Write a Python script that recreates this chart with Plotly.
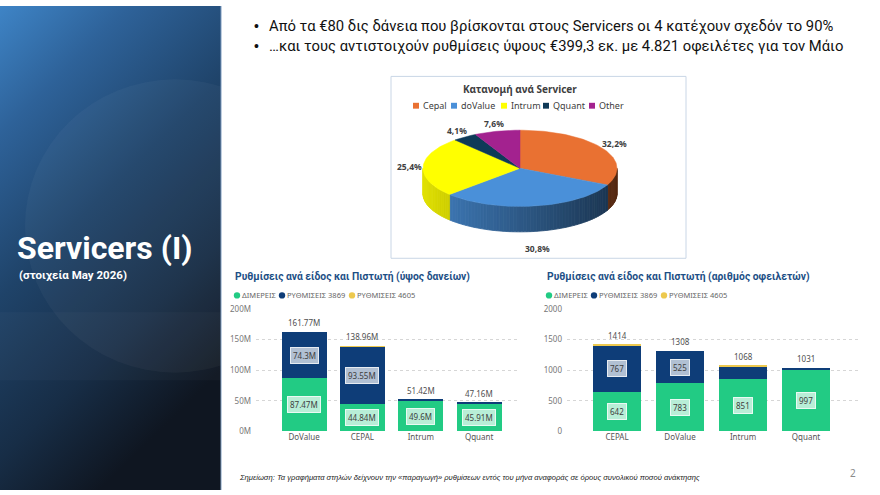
import math
import urllib.parse
import plotly.graph_objects as go

W, H = 880, 495

# ---------------- data ----------------
pie_labels = ["Cepal", "doValue", "Intrum", "Qquant", "Other"]
pie_values = [32.2, 30.8, 25.4, 4.1, 7.6]
pie_colors = ["#E97132", "#4A90D9", "#FFFF00", "#0E3A58", "#A3228F"]

series_names = ["ΔΙΜΕΡΕΙΣ", "ΡΥΘΜΙΣΕΙΣ 3869", "ΡΥΘΜΙΣΕΙΣ 4605"]
series_colors = ["#22CB84", "#0E3D78", "#EDC94E"]

amt_categories = ["DoValue", "CEPAL", "Intrum", "Qquant"]
amt_dimereis = [87.47, 44.84, 49.6, 45.91]
amt_3869 = [74.3, 93.55, 1.82, 1.25]
amt_4605 = [0, 0.57, 0, 0]
amt_ticks = [0, 50, 100, 150, 200]
amt_ticktext = ["0M", "50M", "100M", "150M", "200M"]

cnt_categories = ["CEPAL", "DoValue", "Intrum", "Qquant"]
cnt_dimereis = [642, 783, 851, 997]
cnt_3869 = [767, 525, 215, 34]
cnt_4605 = [5, 0, 2, 0]
cnt_ticks = [0, 500, 1000, 1500, 2000]
cnt_ticktext = ["0", "500", "1000", "1500", "2000"]

bullet_texts = [
    "Από τα €80 δις δάνεια που βρίσκονται στους Servicers οι 4 κατέχουν σχεδόν το 90%",
    "…και τους αντιστοιχούν ρυθμίσεις ύψους €399,3 εκ. με 4.821 οφειλέτες για τον Μάιο",
]
note_text = ("Σημείωση: Τα γραφήματα στηλών δείχνουν την «παραγωγή» ρυθμίσεων εντός του μήνα "
             "αναφοράς σε όρους συνολικού ποσού ανάκτησης")

# ---------------- helpers ----------------
def px(x):
    return x / W

def py(y):
    return 1 - y / H

FONT = "Noto Sans"
SLIDE_FONT = "Roboto"

fig = go.Figure()
annotations = []
shapes = []

# ---------------- left panel background ----------------
svg = ("<svg xmlns='http://www.w3.org/2000/svg' width='221' height='495' viewBox='0 0 221 495'>"
       "<defs><linearGradient id='g' x1='0' y1='0' x2='0.45' y2='1'>"
       "<stop offset='0' stop-color='#3E84C6'/>"
       "<stop offset='0.22' stop-color='#2E6299'/>"
       "<stop offset='0.5' stop-color='#1F4369'/>"
       "<stop offset='0.78' stop-color='#172D46'/>"
       "<stop offset='1' stop-color='#0F1621'/>"
       "</linearGradient></defs>"
       "<rect width='221' height='495' fill='url(#g)'/>"
       "<circle cx='175' cy='225' r='150' fill='white' fill-opacity='0.035'/>"
       "<rect y='313' width='221' height='70' fill='white' fill-opacity='0.025'/>"
       "</svg>")
src = "data:image/svg+xml;charset=utf-8," + urllib.parse.quote(svg)
fig.add_layout_image(dict(source=src, xref="paper", yref="paper", x=0, y=1,
                          sizex=px(221), sizey=1, xanchor="left", yanchor="top",
                          sizing="stretch", layer="below"))
shapes.append(dict(type="line", xref="paper", yref="paper", x0=px(221), x1=px(221),
                   y0=0, y1=1, line=dict(color="#7E9CC0", width=1)))

annotations.append(dict(xref="paper", yref="paper", x=px(15), y=py(247), xanchor="left",
                        yanchor="middle", showarrow=False, text="<b>Servicers (I)</b>",
                        font=dict(family=SLIDE_FONT, size=32, color="white")))
annotations.append(dict(xref="paper", yref="paper", x=px(17), y=py(275), xanchor="left",
                        yanchor="middle", showarrow=False, text="<b>(στοιχεία May 2026)</b>",
                        font=dict(family=SLIDE_FONT, size=11.5, color="white")))

# ---------------- bullets ----------------
for i, t in enumerate(bullet_texts):
    yy = 20 + i * 21
    annotations.append(dict(xref="paper", yref="paper", x=px(256), y=py(yy), xanchor="center",
                            yanchor="middle", showarrow=False, text="•",
                            font=dict(family="Liberation Sans", size=14, color="#111111")))
    annotations.append(dict(xref="paper", yref="paper", x=px(267), y=py(yy), xanchor="left",
                            yanchor="middle", showarrow=False, text=t,
                            font=dict(family=SLIDE_FONT, size=14.8, color="#111111")))

# ---------------- pie box ----------------
shapes.append(dict(type="rect", xref="paper", yref="paper", x0=px(391), x1=px(686),
                   y0=py(258), y1=py(72), line=dict(color="#C9D6E6", width=1),
                   fillcolor="rgba(0,0,0,0)", layer="below"))
annotations.append(dict(xref="paper", yref="paper", x=px(520), y=py(85), xanchor="center",
                        yanchor="middle", showarrow=False, text="<b>Κατανομή ανά Servicer</b>",
                        font=dict(family=FONT, size=10, color="#404040")))
pie_leg_x = [416, 454, 504, 546, 592]
for lx, l, c in zip(pie_leg_x, pie_labels, pie_colors):
    shapes.append(dict(type="rect", xref="paper", yref="paper", x0=px(lx - 3), x1=px(lx + 3),
                       y0=py(105), y1=py(99), line=dict(width=0), fillcolor=c))
    annotations.append(dict(xref="paper", yref="paper", x=px(lx + 5), y=py(102), xanchor="left",
                            yanchor="middle", showarrow=False, text=l,
                            font=dict(family=FONT, size=9, color="#404040")))

# ---------------- 3D pie drawn on a pixel canvas axis ----------------
cx, cy, a, b, depth = 520, 166, 97, 39, 26
total = sum(pie_values)
bounds = [0]
for v in pie_values:
    bounds.append(bounds[-1] + v / total * 360)

def ept(th):
    r = math.radians(th)
    return cx + a * math.sin(r), cy - b * math.cos(r)

def shade(hexc, f):
    hexc = hexc.lstrip("#")
    r, g, bb = (int(hexc[i:i + 2], 16) for i in (0, 2, 4))
    return "rgb(%d,%d,%d)" % (r * f, g * f, bb * f)

# walls (front half: 90..270 deg clockwise from top)
step = 2.0
th = 90.0
while th < 270.0 - 1e-9:
    t0, t1 = th, min(th + step, 270.0)
    cuts = [t0] + [bd for bd in bounds if t0 < bd < t1] + [t1]
    for s0, s1 in zip(cuts[:-1], cuts[1:]):
        mid = (s0 + s1) / 2
        k = max(i for i in range(len(pie_values)) if bounds[i] <= mid)
        n = 4
        top = [ept(s0 + (s1 - s0) * j / n) for j in range(n + 1)]
        xs = [p[0] for p in top] + [p[0] for p in reversed(top)] + [top[0][0]]
        ys = [p[1] for p in top] + [p[1] + depth for p in reversed(top)] + [top[0][1]]
        xm = ept(mid)[0]
        f = 0.88 - 0.52 * (xm - (cx - a)) / (2 * a)
        col = shade(pie_colors[k], f)
        fig.add_trace(go.Scatter(x=xs, y=ys, mode="lines", fill="toself", fillcolor=col,
                                 line=dict(color=col, width=0.8), xaxis="x3", yaxis="y3",
                                 hoverinfo="skip", showlegend=False))
    th = t1

# top faces
for k, v in enumerate(pie_values):
    s0, s1 = bounds[k], bounds[k + 1]
    n = max(4, int((s1 - s0) / 1.5))
    arc = [ept(s0 + (s1 - s0) * j / n) for j in range(n + 1)]
    xs = [cx] + [p[0] for p in arc] + [cx]
    ys = [cy] + [p[1] for p in arc] + [cy]
    fig.add_trace(go.Scatter(x=xs, y=ys, mode="lines", fill="toself", fillcolor=pie_colors[k],
                             line=dict(color=pie_colors[k], width=0.5), xaxis="x3", yaxis="y3",
                             hoverinfo="skip", showlegend=False))
    mid = math.radians((s0 + s1) / 2)
    lx = cx + (a + 14) * math.sin(mid)
    ly = cy - (b + 8) * math.cos(mid) + (depth + 10) * max(0.0, -math.cos(mid))
    annotations.append(dict(xref="x3", yref="y3", x=lx, y=ly, showarrow=False,
                            text="<b>%s%%</b>" % (f"{v:.1f}".replace(".", ",")),
                            font=dict(family=FONT, size=8.5, color="#404040")))

# ---------------- bar charts ----------------
def bar_chart(cats, series, xa, ya, fmt, ymax):
    for name, vals, col in zip(series_names, series, series_colors):
        fig.add_trace(go.Bar(x=cats, y=vals, name=name, marker=dict(color=col, line=dict(width=0)),
                             width=0.77, xaxis=xa, yaxis=ya, showlegend=False, hoverinfo="skip"))
    for i, c in enumerate(cats):
        base = 0
        for s in range(len(series)):
            v = series[s][i]
            if v >= 0.12 * ymax:
                annotations.append(dict(xref=xa, yref=ya, x=c, y=base + v / 2, showarrow=False,
                                        text=fmt(v), bgcolor="rgba(255,255,255,0.68)",
                                        bordercolor="rgba(255,255,255,0.85)", borderwidth=1,
                                        borderpad=2,
                                        font=dict(family=FONT, size=8, color="#3E3E3E")))
            base += v
        tot = round(sum(sv[i] for sv in series), 2)
        annotations.append(dict(xref=xa, yref=ya, x=c, y=tot, yanchor="bottom", yshift=2,
                                showarrow=False, text=fmt(tot),
                                font=dict(family=FONT, size=8, color="#505050")))

bar_chart(amt_categories, [amt_dimereis, amt_3869, amt_4605], "x", "y",
          lambda v: f"{v:g}M", 200)
bar_chart(cnt_categories, [cnt_dimereis, cnt_3869, cnt_4605], "x2", "y2",
          lambda v: f"{v:g}", 2000)

# titles and legends of bar charts
leg_dx = [4, 49, 119]
for x0, title in [(233, "Ρυθμίσεις ανά είδος και Πιστωτή (ύψος δανείων)"),
                  (545, "Ρυθμίσεις ανά είδος και Πιστωτή (αριθμός οφειλετών)")]:
    annotations.append(dict(xref="paper", yref="paper", x=px(x0), y=py(277), xanchor="left",
                            yanchor="middle", showarrow=False, text=f"<b>{title}</b>",
                            font=dict(family=SLIDE_FONT, size=10.3, color="#1D4F86")))
    for dx, n, c in zip(leg_dx, series_names, series_colors):
        shapes.append(dict(type="circle", xref="paper", yref="paper",
                           x0=px(x0 + dx - 3.2), x1=px(x0 + dx + 3.2),
                           y0=py(296 + 3.2), y1=py(296 - 3.2), line=dict(width=0), fillcolor=c))
        annotations.append(dict(xref="paper", yref="paper", x=px(x0 + dx + 2.5), y=py(296),
                                xanchor="left", yanchor="middle", showarrow=False, text=n,
                                font=dict(family=FONT, size=7.5, color="#666666")))

# footer
annotations.append(dict(xref="paper", yref="paper", x=px(237), y=py(482), xanchor="left",
                        yanchor="middle", showarrow=False, text=f"<i>{note_text}</i>",
                        font=dict(family="Liberation Sans", size=7.6, color="#222222")))
annotations.append(dict(xref="paper", yref="paper", x=px(853), y=py(478), xanchor="center",
                        yanchor="middle", showarrow=False, text="2",
                        font=dict(family=FONT, size=10, color="#8A8A8A")))

ydom = [py(435), py(310)]
axis_common_y = dict(showgrid=True, gridcolor="#D6D6D6", griddash="dot", gridwidth=1,
                     zeroline=False, showline=False, ticks="", fixedrange=True,
                     tickfont=dict(family=FONT, size=8, color="#777777"), ticklabelstandoff=4)
axis_common_x = dict(showgrid=False, zeroline=False, showline=False, ticks="", fixedrange=True,
                     tickfont=dict(family=FONT, size=8, color="#555555"), type="category")

fig.update_layout(
    width=W, height=H, margin=dict(l=0, r=0, t=0, b=0),
    paper_bgcolor="white", plot_bgcolor="rgba(0,0,0,0)",
    barmode="stack", bargap=0.2,
    showlegend=False,
    xaxis=dict(domain=[px(256), px(520)], range=[-0.823, 3.70], anchor="y", **axis_common_x),
    yaxis=dict(domain=ydom, range=[0, 200], tickvals=amt_ticks, ticktext=amt_ticktext,
               anchor="x", **axis_common_y),
    xaxis2=dict(domain=[px(567), px(858)], range=[-0.794, 3.825], anchor="y2", **axis_common_x),
    yaxis2=dict(domain=ydom, range=[0, 2000], tickvals=cnt_ticks, ticktext=cnt_ticktext,
                anchor="x2", **axis_common_y),
    xaxis3=dict(domain=[0, 1], range=[0, W], visible=False, fixedrange=True, anchor="y3"),
    yaxis3=dict(domain=[0, 1], range=[H, 0], visible=False, fixedrange=True, anchor="x3"),
    annotations=annotations,
    shapes=shapes,
)

fig.write_html("out.html")
